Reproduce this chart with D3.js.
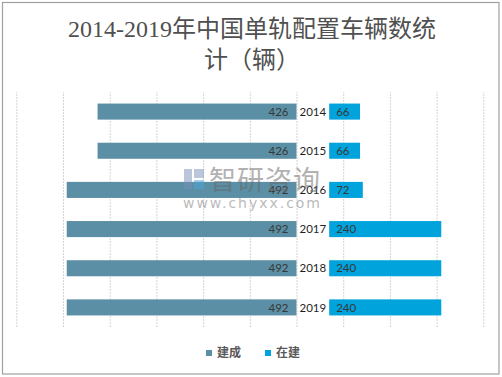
<!DOCTYPE html>
<html>
<head>
<meta charset="utf-8">
<script src="https://cdn.jsdelivr.net/npm/d3@7"></script>
<style>
  body { margin: 0; background: #fff; }
  svg { display: block; }
</style>
</head>
<body>
<svg id="chart" width="502" height="377"></svg>
<script>
var years    = ["2014", "2015", "2016", "2017", "2018", "2019"];
var built    = [426, 426, 492, 492, 492, 492];   // 建成
var building = [66, 66, 72, 240, 240, 240];      // 在建
var seriesNames = ["建成", "在建"];
var gridTicks = [-600, -500, -400, -300, -200, -100, 0, 100, 200, 300, 400];

var colors = {built: "#5b8fa5", building: "#00a3db"};
var gap = 70; // spacer between the two halves, in data units

var svg = d3.select("#chart");
var W = +svg.attr("width"), H = +svg.attr("height");

// chart border
svg.append("rect")
    .attr("x", 2.5).attr("y", 2.5)
    .attr("width", W - 5.5).attr("height", H - 5.5)
    .attr("fill", "none")
    .attr("stroke", "#a0a0a0")
    .attr("stroke-width", 1.2);

// title
var title = svg.append("text")
    .attr("text-anchor", "middle")
    .attr("fill", "#505050")
    .style("font-family", "'Liberation Serif', 'Noto Sans CJK SC', serif")
    .style("font-size", "24px");
title.append("tspan").attr("x", 252).attr("y", 37).text("2014-2019年中国单轨配置车辆数统");
title.append("tspan").attr("x", 252).attr("y", 68).text("计（辆）");

var plot = {top: 92, bottom: 327};

var x = d3.scaleLinear().domain([-600, 400]).range([16.3, 483.3]);
var y = d3.scaleBand().domain(years).range([plot.top, plot.bottom])
    .paddingInner(0.59).paddingOuter(0.295);

// gridlines
svg.append("g")
    .attr("transform", "translate(0," + plot.bottom + ")")
    .call(d3.axisBottom(x).tickValues(gridTicks).tickSize(-(plot.bottom - plot.top)).tickFormat(""))
    .call(function(g){
        g.select(".domain").remove();
        g.selectAll("line")
            .attr("stroke", "#d4d4d4")
            .attr("stroke-dasharray", "2,1");
    });

var rows = years.map(function(yr, i){ return {year: yr, built: built[i], building: building[i]}; });

// 建成 bars, going left from zero
svg.selectAll(".bar-built").data(rows).enter().append("rect")
    .attr("class", "bar-built")
    .attr("x", function(d){ return x(-d.built); })
    .attr("y", function(d){ return y(d.year); })
    .attr("width", function(d){ return x(0) - x(-d.built); })
    .attr("height", y.bandwidth())
    .attr("fill", colors.built);

// 在建 bars, going right after the spacer
svg.selectAll(".bar-building").data(rows).enter().append("rect")
    .attr("class", "bar-building")
    .attr("x", x(gap))
    .attr("y", function(d){ return y(d.year); })
    .attr("width", function(d){ return x(gap + d.building) - x(gap); })
    .attr("height", y.bandwidth())
    .attr("fill", colors.building);

var labelFont = "Lato, 'Open Sans', sans-serif";

svg.selectAll(".lbl-built").data(rows).enter().append("text")
    .attr("x", x(0) - 8)
    .attr("y", function(d){ return y(d.year) + y.bandwidth() / 2; })
    .attr("dy", "0.36em")
    .attr("text-anchor", "end")
    .attr("fill", "#383838")
    .style("font-family", labelFont).style("font-size", "11.5px")
    .text(function(d){ return d.built; });

svg.selectAll(".lbl-year").data(rows).enter().append("text")
    .attr("x", (x(0) + x(gap)) / 2)
    .attr("y", function(d){ return y(d.year) + y.bandwidth() / 2; })
    .attr("dy", "0.36em")
    .attr("text-anchor", "middle")
    .attr("fill", "#1f1f1f")
    .style("font-family", labelFont).style("font-size", "11.5px")
    .text(function(d){ return d.year; });

svg.selectAll(".lbl-building").data(rows).enter().append("text")
    .attr("x", x(gap) + 7)
    .attr("y", function(d){ return y(d.year) + y.bandwidth() / 2; })
    .attr("dy", "0.36em")
    .attr("fill", "#383838")
    .style("font-family", labelFont).style("font-size", "11.5px")
    .text(function(d){ return d.building; });

// watermark
var wm = svg.append("g").attr("opacity", 0.5);
wm.append("rect").attr("x", 184).attr("y", 169).attr("width", 8).attr("height", 20).attr("fill", "#7a8fb8");
wm.append("rect").attr("x", 194).attr("y", 169).attr("width", 10).attr("height", 9).attr("fill", "#7a8fb8");
wm.append("rect").attr("x", 194).attr("y", 180).attr("width", 10).attr("height", 9).attr("fill", "#4fa3d9");
wm.append("text")
    .attr("x", 209).attr("y", 190)
    .attr("fill", "#666")
    .style("font-family", "'Noto Sans CJK SC', sans-serif")
    .style("font-size", "27px")
    .attr("textLength", 111)
    .text("智研咨询");
wm.append("text")
    .attr("x", 183).attr("y", 208)
    .attr("fill", "#777")
    .style("font-family", "'DejaVu Sans', sans-serif")
    .style("font-size", "14px")
    .attr("textLength", 137)
    .text("www.chyxx.com");

// legend
var legend = svg.append("g").attr("transform", "translate(0,353)");
var legendItems = [
    {name: seriesNames[0], color: colors.built, x: 206},
    {name: seriesNames[1], color: colors.building, x: 265}
];
legendItems.forEach(function(it){
    legend.append("rect")
        .attr("x", it.x).attr("y", -3).attr("width", 6).attr("height", 6)
        .attr("fill", it.color);
    legend.append("text")
        .attr("x", it.x + 11).attr("y", 0).attr("dy", "0.36em")
        .attr("fill", "#595959")
        .style("font-family", "'Noto Sans CJK SC', sans-serif")
        .style("font-size", "12px").style("font-weight", "bold")
        .text(it.name);
});
</script>
</body>
</html>
